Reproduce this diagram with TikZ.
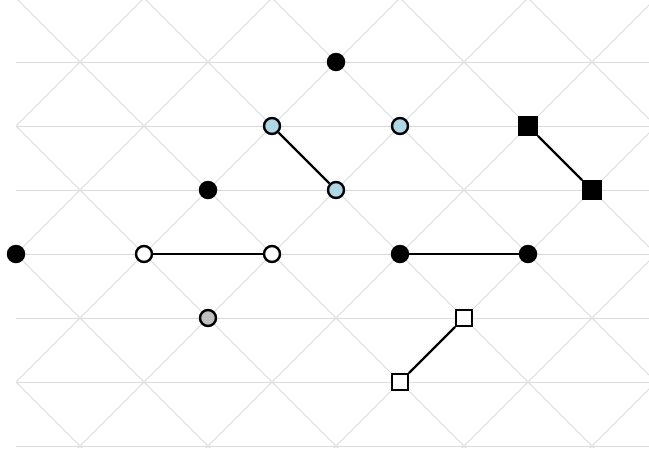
\documentclass[tikz,border=0pt]{standalone}
\begin{document}
\begin{tikzpicture}[x=1pt,y=-1pt,
  gridline/.style={draw=black!14,line width=0.9pt},
  conn/.style={draw=black,line width=2.4pt},
  blackdot/.style={circle,fill=black,inner sep=0pt,minimum size=18.5pt},
  ringdot/.style={circle,draw=black,line width=2.4pt,inner sep=0pt,minimum size=16pt},
  bluedot/.style={ringdot,fill=lblue},
  whitedot/.style={ringdot,fill=white},
  graydot/.style={ringdot,fill=silvergray},
  blacksq/.style={rectangle,fill=black,inner sep=0pt,minimum size=19.5pt},
  whitesq/.style={rectangle,draw=black,line width=2.4pt,fill=white,inner sep=0pt,minimum size=15.5pt}]
\definecolor{lblue}{RGB}{173,216,230}
\definecolor{silvergray}{RGB}{192,192,192}
\useasboundingbox (0,0) rectangle (649,453);
\fill[white] (0,0) rectangle (649,453);
\begin{scope}
  \clip (16,-1) rectangle (650,447);
  \foreach \yy in {62,126,...,446} \draw[gridline] (16,\yy) -- (650,\yy);
  \foreach \k in {-4,...,6} \draw[gridline] (18+128*\k,0) -- (478+128*\k,460);
  \foreach \k in {0,...,9} \draw[gridline] (14+128*\k,0) -- (-446+128*\k,460);
\end{scope}
% nodes
\node[blackdot] (b1) at (336,62) {};
\node[blackdot] (b2) at (208,190) {};
\node[blackdot] (b3) at (16,254) {};
\node[blackdot] (b4) at (400,254) {};
\node[blackdot] (b5) at (528,254) {};
\node[bluedot] (c1) at (272,126) {};
\node[bluedot] (c2) at (400,126) {};
\node[bluedot] (c3) at (336,190) {};
\node[whitedot] (w1) at (144,254) {};
\node[whitedot] (w2) at (272,254) {};
\node[graydot] (g1) at (208,318) {};
\node[blacksq] (s1) at (528,126) {};
\node[blacksq] (s2) at (592,190) {};
\node[whitesq] (q1) at (464,318) {};
\node[whitesq] (q2) at (400,382) {};
% connectors
\draw[conn] (c1) -- (c3);
\draw[conn] (w1) -- (w2);
\draw[conn] (b4) -- (b5);
\draw[conn] (s1) -- (s2);
\draw[conn] (q1) -- (q2);
\end{tikzpicture}
\end{document}
